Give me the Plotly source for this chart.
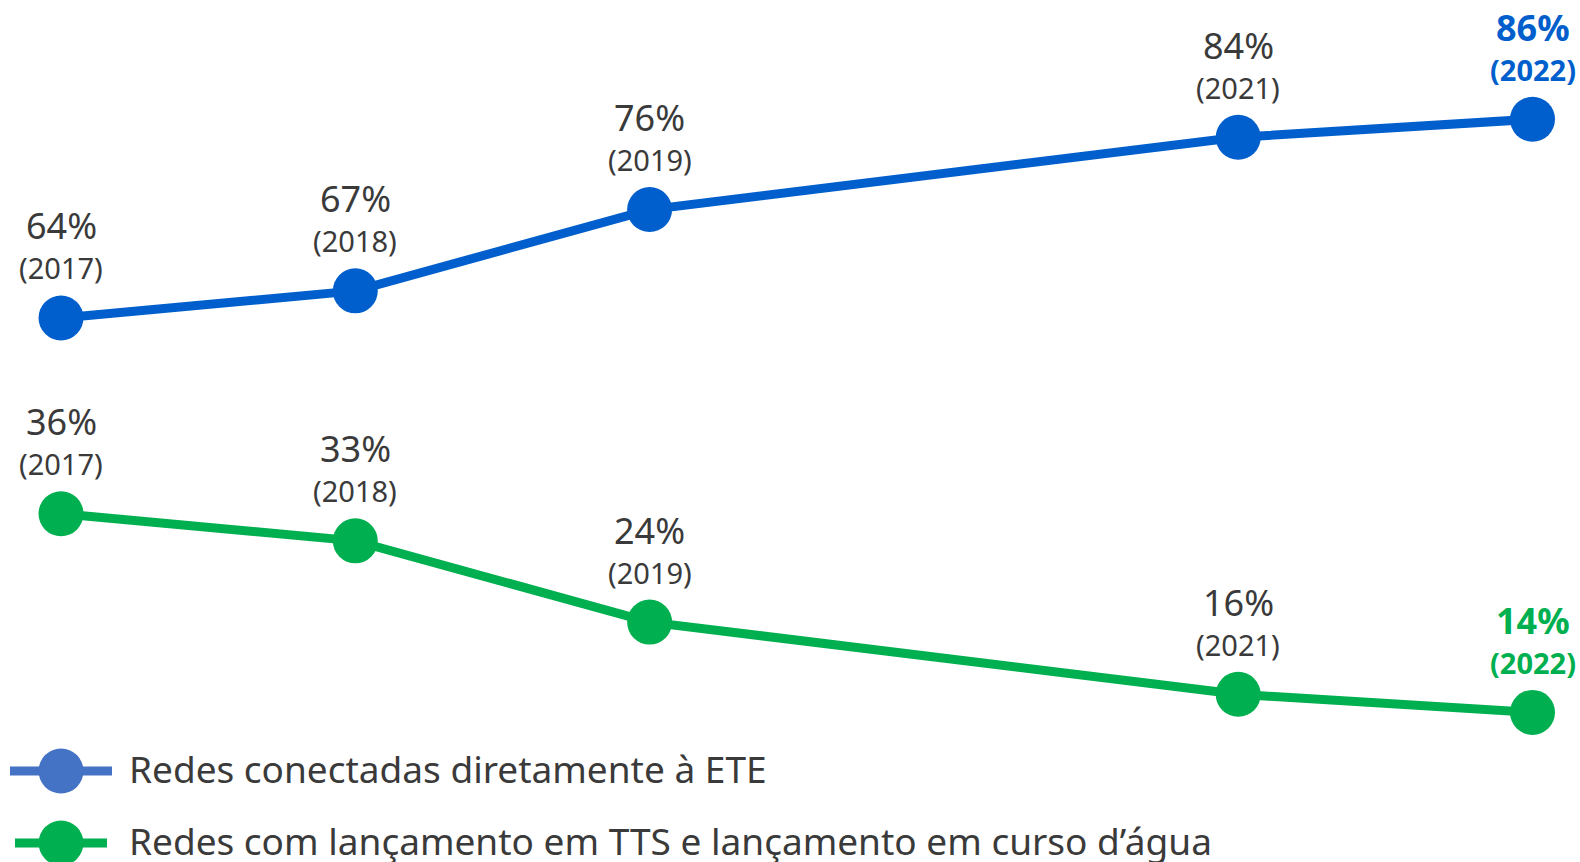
import plotly.graph_objects as go

# Dados
anos = [2017, 2018, 2019, 2021, 2022]
ete = [64, 67, 76, 84, 86]
tts = [36, 33, 24, 16, 14]
legenda = ["Redes conectadas diretamente à ETE",
           "Redes com lançamento em TTS e lançamento em curso d’água"]

AZUL = "#005FCC"
VERDE = "#00B050"
AZUL_LEG = "#4472C4"
TEXTO = "#3a3a3a"
FONTE = "Noto Sans"

W, H = 1580, 862

fig = go.Figure()

fig.add_trace(go.Scatter(
    x=anos, y=ete, mode="lines+markers", yaxis="y",
    line=dict(color=AZUL, width=9),
    marker=dict(color=AZUL, size=45),
    cliponaxis=False, showlegend=False, hoverinfo="skip",
))
fig.add_trace(go.Scatter(
    x=anos, y=tts, mode="lines+markers", yaxis="y2",
    line=dict(color=VERDE, width=9),
    marker=dict(color=VERDE, size=45),
    cliponaxis=False, showlegend=False, hoverinfo="skip",
))

annotations = []
for serie, yref, cor in [(ete, "y", AZUL), (tts, "y2", VERDE)]:
    for i, (ano, v) in enumerate(zip(anos, serie)):
        ultimo = i == len(anos) - 1
        c = cor if ultimo else TEXTO
        pct = f"<b>{v}%</b>" if ultimo else f"{v}%"
        ano_txt = f"<b>({ano})</b>" if ultimo else f"({ano})"
        annotations.append(dict(
            x=ano, y=v, xref="x", yref=yref, text=pct, showarrow=False,
            yanchor="middle", yshift=92,
            font=dict(family=FONTE, size=36, color=c),
        ))
        annotations.append(dict(
            x=ano, y=v, xref="x", yref=yref, text=ano_txt, showarrow=False,
            yanchor="middle", yshift=50,
            font=dict(family=FONTE, size=29, color=c),
        ))

# Legenda desenhada manualmente
shapes = []
leg_itens = [(legenda[0], AZUL_LEG, 771, 10, 112),
             (legenda[1], VERDE, 843, 15, 107)]
r = 22.5
cx = 61
for txt, cor, cy, lx0, lx1 in leg_itens:
    shapes.append(dict(type="line", xref="paper", yref="paper",
                       x0=lx0 / W, x1=lx1 / W, y0=1 - cy / H, y1=1 - cy / H,
                       line=dict(color=cor, width=9)))
    shapes.append(dict(type="circle", xref="paper", yref="paper",
                       x0=(cx - r) / W, x1=(cx + r) / W,
                       y0=1 - (cy + r) / H, y1=1 - (cy - r) / H,
                       fillcolor=cor, line=dict(width=0)))
    annotations.append(dict(
        x=127 / W, y=1 - (cy - 3) / H, xref="paper", yref="paper",
        text=txt, showarrow=False, xanchor="left", yanchor="middle",
        font=dict(family=FONTE, size=37, color=TEXTO),
    ))

fig.update_layout(
    width=W, height=H,
    margin=dict(l=0, r=0, t=0, b=0),
    paper_bgcolor="white", plot_bgcolor="white",
    xaxis=dict(range=[2016.7927, 2022.1614], visible=False, fixedrange=True),
    yaxis=dict(range=[3.77, 99.2], visible=False, fixedrange=True),
    yaxis2=dict(range=[-2.57, 92.9], visible=False, overlaying="y",
                fixedrange=True),
    annotations=annotations,
    shapes=shapes,
)

fig.write_html("out.html", config={"displayModeBar": False})
